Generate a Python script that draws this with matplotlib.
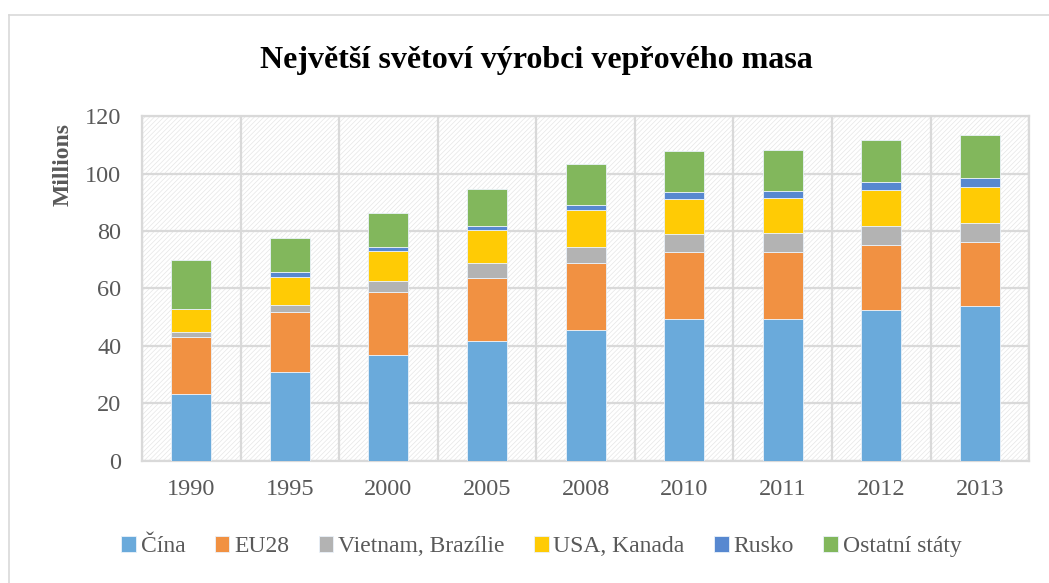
import numpy as np
import matplotlib.pyplot as plt
from matplotlib.patches import Rectangle
from matplotlib.lines import Line2D

# Data, millions of tonnes
years = ['1990', '1995', '2000', '2005', '2008', '2010', '2011', '2012', '2013']
cina = [23.4, 30.9, 36.7, 41.7, 45.7, 49.4, 49.4, 52.4, 53.8]
eu28 = [19.6, 20.8, 22.0, 22.1, 23.0, 23.3, 23.3, 22.8, 22.3]
vietnam_brazilie = [1.9, 2.7, 3.8, 4.9, 5.9, 6.2, 6.6, 6.4, 6.7]
usa_kanada = [8.1, 9.7, 10.4, 11.5, 12.6, 12.4, 12.2, 12.8, 12.5]
rusko = [0.0, 1.7, 1.6, 1.4, 1.9, 2.2, 2.4, 2.7, 3.0]
ostatni = [16.8, 11.6, 11.7, 12.9, 14.2, 14.3, 14.3, 14.7, 15.2]

series = [
    ('Čína', cina, '#6aaadb'),
    ('EU28', eu28, '#f19142'),
    ('Vietnam, Brazílie', vietnam_brazilie, '#b3b3b3'),
    ('USA, Kanada', usa_kanada, '#ffcb05'),
    ('Rusko', rusko, '#5788d0'),
    ('Ostatní státy', ostatni, '#82b75c'),
]

plt.rcParams['font.family'] = ['Liberation Serif', 'DejaVu Serif']
plt.rcParams['hatch.linewidth'] = 0.5

fig = plt.figure(figsize=(10.49, 5.83), dpi=100)
ax = fig.add_axes([0.1354, 0.2093, 0.8456, 0.5917])

x = np.arange(len(years))
bottom = np.zeros(len(years))
for name, vals, col in series:
    ax.bar(x, vals, width=0.405, bottom=bottom, color=col, label=name,
           edgecolor='#eaf2fa', linewidth=0.6, zorder=3)
    bottom += np.array(vals)

# hatched plot background
ax.add_patch(Rectangle((0, 0), 1, 1, transform=ax.transAxes, facecolor='white',
                       edgecolor='#e6e6e6', hatch='///////', linewidth=0, zorder=0))

ax.set_xlim(-0.5, len(years) - 0.5)
ax.set_ylim(0, 120)
ax.set_yticks(range(0, 121, 20))
ax.set_xticks(x)
ax.set_xticklabels(years)
for b in np.arange(-0.5, len(years), 1.0):
    ax.axvline(b, color='#d9d9d9', lw=1.6, zorder=1)
for t in range(0, 121, 20):
    ax.axhline(t, color='#d9d9d9', lw=1.6, zorder=1)

for s in ax.spines.values():
    s.set_color('#d9d9d9')
    s.set_linewidth(1.6)
ax.tick_params(length=0, labelsize=17.5, labelcolor='#595959')
ax.tick_params(axis='x', pad=13)
ax.tick_params(axis='y', pad=15)

fig.text(0.511, 0.897, 'Největší světoví výrobci vepřového masa', ha='center',
         va='center', fontsize=23, fontweight='bold', color='black')
fig.text(0.060, 0.717, 'Millions', rotation=90, ha='center', va='center',
         fontsize=17, fontweight='bold', color='#595959')

handles, labels = ax.get_legend_handles_labels()
leg = fig.legend(handles, labels, loc='center', bbox_to_anchor=(0.516, 0.062),
                 ncol=6, frameon=False, fontsize=17, handlelength=0.62,
                 handleheight=0.62, handletextpad=0.2, columnspacing=1.25)
for t in leg.get_texts():
    t.set_color('#595959')

# outer chart frame (only top and left visible)
fig.add_artist(Line2D([9 / 1049, 1.0], [1 - 15 / 583, 1 - 15 / 583],
                      transform=fig.transFigure, color='#d9d9d9', lw=1.2))
fig.add_artist(Line2D([9 / 1049, 9 / 1049], [0.0, 1 - 15 / 583],
                      transform=fig.transFigure, color='#d9d9d9', lw=1.2))

fig.savefig('out.png', dpi=100)
